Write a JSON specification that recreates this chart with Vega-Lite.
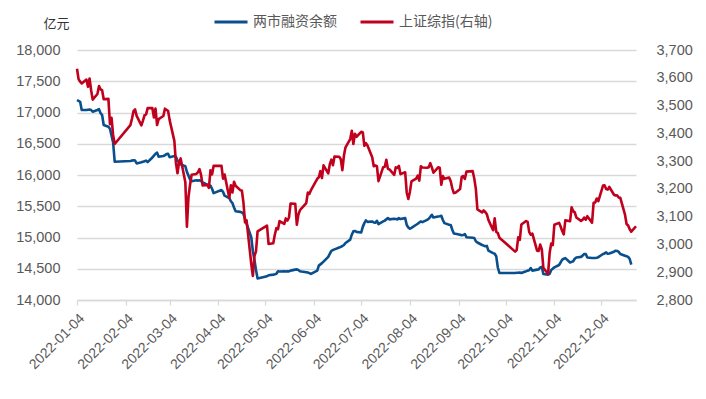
{
  "$schema": "https://vega.github.io/schema/vega-lite/v6.json",
  "width": 559,
  "height": 250,
  "autosize": "none",
  "padding": {"left": 77, "top": 50, "right": 70, "bottom": 99},
  "background": "white",
  "data": {"values": [
    {"date":"2022-01-04","margin":17198,"sse":3632.33},
    {"date":"2022-01-05","margin":17185,"sse":3595.18},
    {"date":"2022-01-06","margin":17171,"sse":3586.08},
    {"date":"2022-01-07","margin":17040,"sse":3579.54},
    {"date":"2022-01-10","margin":17040,"sse":3593.52},
    {"date":"2022-01-11","margin":17045,"sse":3567.44},
    {"date":"2022-01-12","margin":17049,"sse":3597.43},
    {"date":"2022-01-13","margin":17040,"sse":3555.06},
    {"date":"2022-01-14","margin":17012,"sse":3521.26},
    {"date":"2022-01-17","margin":17040,"sse":3541.67},
    {"date":"2022-01-18","margin":17054,"sse":3569.91},
    {"date":"2022-01-19","margin":16990,"sse":3558.18},
    {"date":"2022-01-20","margin":16960,"sse":3555.06},
    {"date":"2022-01-21","margin":16800,"sse":3522.57},
    {"date":"2022-01-24","margin":16772,"sse":3524.11},
    {"date":"2022-01-25","margin":16740,"sse":3433.06},
    {"date":"2022-01-26","margin":16630,"sse":3455.67},
    {"date":"2022-01-27","margin":16520,"sse":3394.25},
    {"date":"2022-01-28","margin":16213,"sse":3361.44},
    {"date":"2022-02-07","margin":16225,"sse":3429.58},
    {"date":"2022-02-08","margin":16230,"sse":3452.63},
    {"date":"2022-02-09","margin":16235,"sse":3479.95},
    {"date":"2022-02-10","margin":16230,"sse":3485.91},
    {"date":"2022-02-11","margin":16185,"sse":3462.95},
    {"date":"2022-02-14","margin":16205,"sse":3428.88},
    {"date":"2022-02-15","margin":16213,"sse":3446.09},
    {"date":"2022-02-16","margin":16220,"sse":3465.04},
    {"date":"2022-02-17","margin":16230,"sse":3468.04},
    {"date":"2022-02-18","margin":16205,"sse":3490.76},
    {"date":"2022-02-21","margin":16280,"sse":3490.61},
    {"date":"2022-02-22","margin":16310,"sse":3457.15},
    {"date":"2022-02-23","margin":16340,"sse":3489.15},
    {"date":"2022-02-24","margin":16357,"sse":3429.96},
    {"date":"2022-02-25","margin":16293,"sse":3451.41},
    {"date":"2022-02-28","margin":16304,"sse":3462.31},
    {"date":"2022-03-01","margin":16315,"sse":3488.83},
    {"date":"2022-03-02","margin":16336,"sse":3484.19},
    {"date":"2022-03-03","margin":16340,"sse":3481.11},
    {"date":"2022-03-04","margin":16285,"sse":3447.65},
    {"date":"2022-03-07","margin":16305,"sse":3372.86},
    {"date":"2022-03-08","margin":16290,"sse":3293.53},
    {"date":"2022-03-09","margin":16230,"sse":3256.39},
    {"date":"2022-03-10","margin":16200,"sse":3296.09},
    {"date":"2022-03-11","margin":16170,"sse":3309.75},
    {"date":"2022-03-14","margin":16140,"sse":3223.53},
    {"date":"2022-03-15","margin":16050,"sse":3063.97},
    {"date":"2022-03-16","margin":15990,"sse":3170.71},
    {"date":"2022-03-17","margin":15930,"sse":3215.04},
    {"date":"2022-03-18","margin":15900,"sse":3251.07},
    {"date":"2022-03-21","margin":15915,"sse":3253.69},
    {"date":"2022-03-22","margin":15910,"sse":3259.86},
    {"date":"2022-03-23","margin":15915,"sse":3271.03},
    {"date":"2022-03-24","margin":15905,"sse":3250.26},
    {"date":"2022-03-25","margin":15880,"sse":3212.24},
    {"date":"2022-03-28","margin":15845,"sse":3214.50},
    {"date":"2022-03-29","margin":15840,"sse":3203.94},
    {"date":"2022-03-30","margin":15830,"sse":3266.60},
    {"date":"2022-03-31","margin":15780,"sse":3252.20},
    {"date":"2022-04-01","margin":15710,"sse":3282.72},
    {"date":"2022-04-06","margin":15760,"sse":3283.43},
    {"date":"2022-04-07","margin":15730,"sse":3236.70},
    {"date":"2022-04-08","margin":15670,"sse":3251.85},
    {"date":"2022-04-11","margin":15630,"sse":3167.13},
    {"date":"2022-04-12","margin":15580,"sse":3213.33},
    {"date":"2022-04-13","margin":15550,"sse":3186.82},
    {"date":"2022-04-14","margin":15480,"sse":3225.64},
    {"date":"2022-04-15","margin":15420,"sse":3211.24},
    {"date":"2022-04-18","margin":15410,"sse":3195.52},
    {"date":"2022-04-19","margin":15400,"sse":3194.03},
    {"date":"2022-04-20","margin":15380,"sse":3151.05},
    {"date":"2022-04-21","margin":15300,"sse":3079.81},
    {"date":"2022-04-22","margin":15220,"sse":3086.92},
    {"date":"2022-04-25","margin":15000,"sse":2928.51},
    {"date":"2022-04-26","margin":14780,"sse":2886.43},
    {"date":"2022-04-27","margin":14640,"sse":2958.28},
    {"date":"2022-04-28","margin":14480,"sse":2975.48},
    {"date":"2022-04-29","margin":14345,"sse":3047.06},
    {"date":"2022-05-05","margin":14380,"sse":3067.76},
    {"date":"2022-05-06","margin":14395,"sse":3001.56},
    {"date":"2022-05-09","margin":14406,"sse":3004.14},
    {"date":"2022-05-10","margin":14412,"sse":3035.84},
    {"date":"2022-05-11","margin":14420,"sse":3058.70},
    {"date":"2022-05-12","margin":14459,"sse":3054.99},
    {"date":"2022-05-13","margin":14455,"sse":3084.28},
    {"date":"2022-05-16","margin":14459,"sse":3073.75},
    {"date":"2022-05-17","margin":14455,"sse":3093.70},
    {"date":"2022-05-18","margin":14460,"sse":3085.98},
    {"date":"2022-05-19","margin":14458,"sse":3096.96},
    {"date":"2022-05-20","margin":14470,"sse":3146.86},
    {"date":"2022-05-23","margin":14486,"sse":3146.57},
    {"date":"2022-05-24","margin":14490,"sse":3070.93},
    {"date":"2022-05-25","margin":14480,"sse":3107.46},
    {"date":"2022-05-26","margin":14460,"sse":3123.11},
    {"date":"2022-05-27","margin":14455,"sse":3130.24},
    {"date":"2022-05-30","margin":14445,"sse":3149.06},
    {"date":"2022-05-31","margin":14440,"sse":3186.43},
    {"date":"2022-06-01","margin":14430,"sse":3182.16},
    {"date":"2022-06-02","margin":14417,"sse":3195.46},
    {"date":"2022-06-06","margin":14470,"sse":3236.37},
    {"date":"2022-06-07","margin":14550,"sse":3241.76},
    {"date":"2022-06-08","margin":14570,"sse":3263.79},
    {"date":"2022-06-09","margin":14590,"sse":3238.95},
    {"date":"2022-06-10","margin":14615,"sse":3284.83},
    {"date":"2022-06-13","margin":14690,"sse":3255.55},
    {"date":"2022-06-14","margin":14740,"sse":3288.91},
    {"date":"2022-06-15","margin":14785,"sse":3305.41},
    {"date":"2022-06-16","margin":14800,"sse":3285.38},
    {"date":"2022-06-17","margin":14810,"sse":3316.79},
    {"date":"2022-06-20","margin":14840,"sse":3315.43},
    {"date":"2022-06-21","margin":14850,"sse":3306.72},
    {"date":"2022-06-22","margin":14864,"sse":3267.20},
    {"date":"2022-06-23","margin":14880,"sse":3320.15},
    {"date":"2022-06-24","margin":14912,"sse":3349.75},
    {"date":"2022-06-27","margin":14965,"sse":3379.19},
    {"date":"2022-06-28","margin":15045,"sse":3409.21},
    {"date":"2022-06-29","margin":15098,"sse":3361.52},
    {"date":"2022-06-30","margin":15105,"sse":3398.62},
    {"date":"2022-07-01","margin":15090,"sse":3387.64},
    {"date":"2022-07-04","margin":15080,"sse":3405.43},
    {"date":"2022-07-05","margin":15170,"sse":3404.03},
    {"date":"2022-07-06","margin":15230,"sse":3355.35},
    {"date":"2022-07-07","margin":15273,"sse":3364.40},
    {"date":"2022-07-08","margin":15250,"sse":3356.08},
    {"date":"2022-07-11","margin":15257,"sse":3313.58},
    {"date":"2022-07-12","margin":15240,"sse":3281.47},
    {"date":"2022-07-13","margin":15235,"sse":3284.29},
    {"date":"2022-07-14","margin":15268,"sse":3281.74},
    {"date":"2022-07-15","margin":15214,"sse":3228.06},
    {"date":"2022-07-18","margin":15257,"sse":3278.10},
    {"date":"2022-07-19","margin":15270,"sse":3279.43},
    {"date":"2022-07-20","margin":15290,"sse":3304.72},
    {"date":"2022-07-21","margin":15310,"sse":3272.00},
    {"date":"2022-07-22","margin":15290,"sse":3269.97},
    {"date":"2022-07-25","margin":15300,"sse":3250.39},
    {"date":"2022-07-26","margin":15295,"sse":3277.44},
    {"date":"2022-07-27","margin":15290,"sse":3275.76},
    {"date":"2022-07-28","margin":15310,"sse":3282.58},
    {"date":"2022-07-29","margin":15295,"sse":3253.24},
    {"date":"2022-08-01","margin":15310,"sse":3259.96},
    {"date":"2022-08-02","margin":15200,"sse":3186.27},
    {"date":"2022-08-03","margin":15161,"sse":3163.67},
    {"date":"2022-08-04","margin":15140,"sse":3189.04},
    {"date":"2022-08-05","margin":15155,"sse":3227.03},
    {"date":"2022-08-08","margin":15204,"sse":3236.93},
    {"date":"2022-08-09","margin":15220,"sse":3247.43},
    {"date":"2022-08-10","margin":15240,"sse":3230.02},
    {"date":"2022-08-11","margin":15257,"sse":3281.67},
    {"date":"2022-08-12","margin":15245,"sse":3276.89},
    {"date":"2022-08-15","margin":15283,"sse":3276.09},
    {"date":"2022-08-16","margin":15300,"sse":3277.88},
    {"date":"2022-08-17","margin":15330,"sse":3292.53},
    {"date":"2022-08-18","margin":15363,"sse":3277.54},
    {"date":"2022-08-19","margin":15320,"sse":3258.08},
    {"date":"2022-08-22","margin":15336,"sse":3277.79},
    {"date":"2022-08-23","margin":15340,"sse":3276.22},
    {"date":"2022-08-24","margin":15347,"sse":3215.20},
    {"date":"2022-08-25","margin":15280,"sse":3246.25},
    {"date":"2022-08-26","margin":15230,"sse":3236.22},
    {"date":"2022-08-29","margin":15204,"sse":3240.73},
    {"date":"2022-08-30","margin":15200,"sse":3227.22},
    {"date":"2022-08-31","margin":15124,"sse":3202.14},
    {"date":"2022-09-01","margin":15065,"sse":3184.98},
    {"date":"2022-09-02","margin":15060,"sse":3186.48},
    {"date":"2022-09-05","margin":15045,"sse":3199.92},
    {"date":"2022-09-06","margin":15035,"sse":3243.45},
    {"date":"2022-09-07","margin":15040,"sse":3246.29},
    {"date":"2022-09-08","margin":15056,"sse":3235.59},
    {"date":"2022-09-09","margin":15005,"sse":3262.05},
    {"date":"2022-09-13","margin":14995,"sse":3263.80},
    {"date":"2022-09-14","margin":14992,"sse":3237.54},
    {"date":"2022-09-15","margin":14940,"sse":3199.92},
    {"date":"2022-09-16","margin":14920,"sse":3126.40},
    {"date":"2022-09-19","margin":14880,"sse":3115.60},
    {"date":"2022-09-20","margin":14870,"sse":3122.41},
    {"date":"2022-09-21","margin":14860,"sse":3117.18},
    {"date":"2022-09-22","margin":14865,"sse":3108.91},
    {"date":"2022-09-23","margin":14790,"sse":3088.37},
    {"date":"2022-09-26","margin":14750,"sse":3051.23},
    {"date":"2022-09-27","margin":14740,"sse":3093.86},
    {"date":"2022-09-28","margin":14700,"sse":3045.07},
    {"date":"2022-09-29","margin":14520,"sse":3041.20},
    {"date":"2022-09-30","margin":14433,"sse":3024.39},
    {"date":"2022-10-10","margin":14433,"sse":2974.15},
    {"date":"2022-10-11","margin":14435,"sse":2979.79},
    {"date":"2022-10-12","margin":14435,"sse":3025.51},
    {"date":"2022-10-13","margin":14440,"sse":3016.36},
    {"date":"2022-10-14","margin":14432,"sse":3071.99},
    {"date":"2022-10-17","margin":14460,"sse":3084.40},
    {"date":"2022-10-18","margin":14470,"sse":3080.96},
    {"date":"2022-10-19","margin":14475,"sse":3044.39},
    {"date":"2022-10-20","margin":14510,"sse":3035.05},
    {"date":"2022-10-21","margin":14470,"sse":3038.93},
    {"date":"2022-10-24","margin":14486,"sse":2977.56},
    {"date":"2022-10-25","margin":14490,"sse":2976.28},
    {"date":"2022-10-26","margin":14520,"sse":2999.50},
    {"date":"2022-10-27","margin":14530,"sse":2982.90},
    {"date":"2022-10-28","margin":14415,"sse":2915.93},
    {"date":"2022-10-31","margin":14406,"sse":2893.48},
    {"date":"2022-11-01","margin":14420,"sse":2969.20},
    {"date":"2022-11-02","margin":14480,"sse":3003.37},
    {"date":"2022-11-03","margin":14500,"sse":2997.81},
    {"date":"2022-11-04","margin":14523,"sse":3070.80},
    {"date":"2022-11-07","margin":14560,"sse":3077.82},
    {"date":"2022-11-08","margin":14600,"sse":3064.49},
    {"date":"2022-11-09","margin":14646,"sse":3048.17},
    {"date":"2022-11-10","margin":14660,"sse":3036.13},
    {"date":"2022-11-11","margin":14670,"sse":3087.29},
    {"date":"2022-11-14","margin":14600,"sse":3083.40},
    {"date":"2022-11-15","margin":14610,"sse":3134.08},
    {"date":"2022-11-16","margin":14620,"sse":3119.98},
    {"date":"2022-11-17","margin":14660,"sse":3115.43},
    {"date":"2022-11-18","margin":14680,"sse":3097.24},
    {"date":"2022-11-21","margin":14690,"sse":3085.04},
    {"date":"2022-11-22","margin":14710,"sse":3088.94},
    {"date":"2022-11-23","margin":14736,"sse":3096.91},
    {"date":"2022-11-24","margin":14736,"sse":3089.31},
    {"date":"2022-11-25","margin":14680,"sse":3101.69},
    {"date":"2022-11-28","margin":14672,"sse":3078.55},
    {"date":"2022-11-29","margin":14672,"sse":3149.75},
    {"date":"2022-11-30","margin":14672,"sse":3151.34},
    {"date":"2022-12-01","margin":14675,"sse":3165.47},
    {"date":"2022-12-02","margin":14685,"sse":3156.14},
    {"date":"2022-12-05","margin":14736,"sse":3211.81},
    {"date":"2022-12-06","margin":14745,"sse":3212.53},
    {"date":"2022-12-07","margin":14762,"sse":3199.62},
    {"date":"2022-12-08","margin":14740,"sse":3197.35},
    {"date":"2022-12-09","margin":14745,"sse":3206.95},
    {"date":"2022-12-12","margin":14773,"sse":3179.04},
    {"date":"2022-12-13","margin":14789,"sse":3176.33},
    {"date":"2022-12-14","margin":14785,"sse":3176.53},
    {"date":"2022-12-15","margin":14770,"sse":3168.65},
    {"date":"2022-12-16","margin":14736,"sse":3167.86},
    {"date":"2022-12-19","margin":14709,"sse":3107.12},
    {"date":"2022-12-20","margin":14700,"sse":3073.77},
    {"date":"2022-12-21","margin":14690,"sse":3068.41},
    {"date":"2022-12-22","margin":14656,"sse":3054.43},
    {"date":"2022-12-23","margin":14566,"sse":3045.87},
    {"date":"2022-12-26","sse":3065.56}
  ]},
  "encoding": {
    "x": {
      "field": "date",
      "type": "temporal",
      "scale": {
        "type": "utc",
        "domain": [
          {"year": 2022, "month": 1, "date": 4, "utc": true},
          {"year": 2022, "month": 12, "date": 26, "utc": true}
        ]
      },
      "axis": {
        "title": null,
        "format": "%Y-%m-%d",
        "values": [
          {"year": 2022, "month": 1, "date": 4, "utc": true},
          {"year": 2022, "month": 2, "date": 4, "utc": true},
          {"year": 2022, "month": 3, "date": 4, "utc": true},
          {"year": 2022, "month": 4, "date": 4, "utc": true},
          {"year": 2022, "month": 5, "date": 4, "utc": true},
          {"year": 2022, "month": 6, "date": 4, "utc": true},
          {"year": 2022, "month": 7, "date": 4, "utc": true},
          {"year": 2022, "month": 8, "date": 4, "utc": true},
          {"year": 2022, "month": 9, "date": 4, "utc": true},
          {"year": 2022, "month": 10, "date": 4, "utc": true},
          {"year": 2022, "month": 11, "date": 4, "utc": true},
          {"year": 2022, "month": 12, "date": 4, "utc": true}
        ],
        "labelAngle": -45,
        "labelAlign": "right",
        "labelBaseline": "top",
        "labelPadding": 6,
        "labelFont": "Liberation Sans",
        "labelFontSize": 14,
        "labelColor": "#595959",
        "labelOverlap": false,
        "labelFlush": false,
        "grid": false,
        "domain": true,
        "domainColor": "#D9D9D9",
        "domainWidth": 1.3,
        "ticks": true,
        "tickColor": "#D9D9D9",
        "tickWidth": 1.3,
        "tickSize": 5
      }
    }
  },
  "layer": [
    {
      "mark": {"type": "line", "strokeWidth": 2.6, "interpolate": "linear"},
      "encoding": {
        "y": {
          "field": "margin",
          "type": "quantitative",
          "scale": {"domain": [14000, 18000], "nice": false, "zero": false},
          "axis": {
            "title": "亿元",
            "titleAngle": 0,
            "titleX": -21,
            "titleY": -27,
            "titleAlign": "center",
            "titleBaseline": "middle",
            "titleFont": "Noto Sans CJK SC",
            "titleFontSize": 13,
            "titleFontWeight": "normal",
            "titleColor": "#333333",
            "values": [14000, 14500, 15000, 15500, 16000, 16500, 17000, 17500, 18000],
            "format": ",d",
            "labelFont": "Liberation Sans",
            "labelFontSize": 14.5,
            "labelColor": "#595959",
            "labelPadding": 17,
            "domain": false,
            "ticks": false,
            "grid": true,
            "gridColor": "#D9D9D9",
            "gridWidth": 1.3
          }
        },
        "color": {
          "datum": "两市融资余额",
          "type": "nominal",
          "scale": {"domain": ["两市融资余额", "上证综指(右轴)"], "range": ["#0A4F8D", "#C0001C"]},
          "legend": {
            "title": null,
            "orient": "none",
            "legendX": 136,
            "legendY": -46,
            "direction": "horizontal",
            "symbolType": "stroke",
            "symbolSize": 1089,
            "symbolStrokeWidth": 3,
            "labelFont": "Noto Sans CJK SC",
            "labelFontSize": 14,
            "labelColor": "#595959",
            "labelOffset": 4,
            "columnPadding": 22
          }
        }
      }
    },
    {
      "mark": {"type": "line", "strokeWidth": 2.6, "interpolate": "linear"},
      "encoding": {
        "y": {
          "field": "sse",
          "type": "quantitative",
          "scale": {"domain": [2800, 3700], "nice": false, "zero": false},
          "axis": {
            "orient": "right",
            "title": null,
            "values": [2800, 2900, 3000, 3100, 3200, 3300, 3400, 3500, 3600, 3700],
            "format": ",d",
            "labelFont": "Liberation Sans",
            "labelFontSize": 14.5,
            "labelColor": "#595959",
            "labelPadding": 20,
            "domain": false,
            "ticks": false,
            "grid": false
          }
        },
        "color": {"datum": "上证综指(右轴)", "type": "nominal"}
      }
    }
  ],
  "resolve": {"scale": {"y": "independent"}, "axis": {"y": "independent"}},
  "config": {
    "view": {"stroke": null},
    "line": {"strokeJoin": "round", "strokeCap": "butt"}
  }
}
